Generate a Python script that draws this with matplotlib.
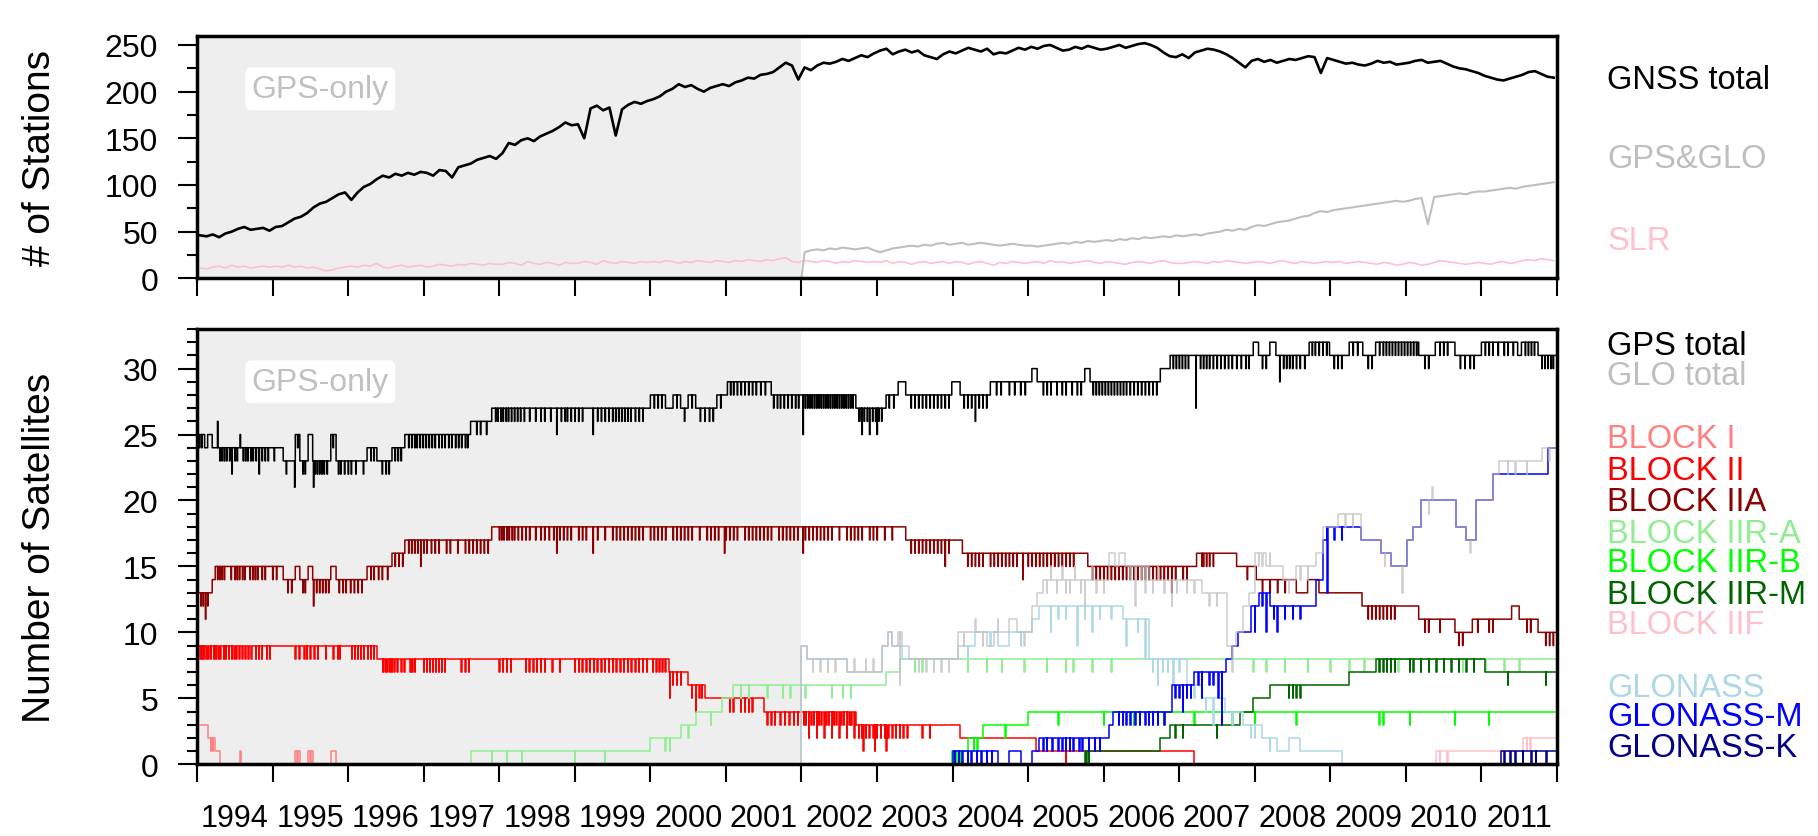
import numpy as np
import matplotlib
matplotlib.use('Agg')
import matplotlib.pyplot as plt
import matplotlib.transforms as mtransforms
from matplotlib.ticker import MultipleLocator, FixedLocator, FixedFormatter, NullFormatter

plt.rcParams['font.family'] = ['Liberation Sans', 'DejaVu Sans']

# ---------------- top panel: monthly station counts ----------------
gnss_total = [
    [46, 45, 47, 44, 48, 50, 53, 55, 52, 53, 54, 51],
    [55, 56, 60, 64, 66, 70, 76, 80, 82, 86, 90, 92],
    [84, 92, 98, 101, 106, 110, 108, 112, 110, 113, 111, 114],
    [113, 110, 116, 115, 108, 119, 121, 123, 127, 129, 131, 128],
    [134, 145, 143, 148, 150, 147, 152, 155, 158, 162, 167, 164],
    [165, 150, 182, 185, 180, 183, 153, 181, 186, 189, 187, 190],
    [192, 195, 200, 203, 208, 205, 207, 203, 200, 204, 206, 208],
    [206, 210, 212, 215, 214, 218, 219, 221, 226, 231, 228, 213],
    [226, 223, 228, 231, 230, 232, 235, 233, 236, 239, 237, 241],
    [244, 246, 240, 243, 245, 242, 244, 239, 237, 235, 240, 243],
    [241, 244, 247, 245, 243, 246, 240, 242, 241, 244, 247, 245],
    [248, 246, 249, 250, 247, 244, 245, 248, 246, 249, 247, 245],
    [246, 248, 250, 247, 249, 251, 252, 250, 247, 242, 238, 237],
    [240, 236, 242, 244, 246, 245, 243, 240, 236, 231, 226, 233],
    [235, 232, 234, 231, 233, 235, 234, 236, 238, 237, 220, 236],
    [234, 232, 230, 231, 229, 228, 230, 233, 231, 232, 229, 230],
    [231, 233, 234, 231, 232, 233, 230, 227, 225, 224, 222, 220],
    [217, 215, 213, 212, 214, 216, 218, 221, 222, 219, 216, 215],
]
gps_glo_stations = [
    [28, 30, 31, 30, 32, 31, 33, 32, 31, 32, 33, 30],
    [28, 30, 32, 33, 34, 35, 34, 36, 35, 37, 38, 36],
    [37, 38, 36, 37, 38, 37, 36, 35, 36, 37, 36, 35],
    [35, 34, 35, 36, 37, 38, 37, 39, 38, 40, 39, 40],
    [41, 40, 42, 41, 43, 42, 44, 43, 44, 45, 44, 46],
    [45, 46, 47, 46, 48, 49, 50, 52, 51, 53, 52, 55],
    [57, 56, 58, 60, 61, 62, 64, 66, 67, 70, 72, 71],
    [73, 74, 75, 76, 77, 78, 79, 80, 81, 82, 83, 82],
    [83, 85, 86, 58, 87, 88, 89, 90, 91, 90, 92, 93],
    [93, 94, 95, 96, 97, 96, 98, 99, 100, 101, 102, 103],
]
slr_stations = [
    [11, 10, 12, 13, 11, 14, 12, 13, 11, 12, 13, 12],
    [13, 12, 14, 12, 13, 11, 12, 10, 8, 9, 11, 12],
    [13, 12, 14, 13, 16, 12, 11, 13, 14, 12, 13, 14],
    [12, 13, 15, 14, 13, 15, 14, 16, 15, 14, 16, 15],
    [15, 17, 16, 14, 18, 16, 15, 17, 16, 14, 17, 16],
    [16, 18, 17, 15, 19, 17, 16, 18, 17, 16, 18, 17],
    [18, 17, 19, 18, 16, 18, 17, 19, 18, 17, 19, 18],
    [17, 19, 18, 20, 19, 18, 20, 19, 21, 22, 18, 17],
    [19, 18, 17, 19, 18, 16, 18, 17, 19, 18, 17, 18],
    [17, 19, 16, 18, 17, 15, 17, 18, 16, 17, 18, 16],
    [18, 17, 15, 17, 18, 16, 14, 17, 16, 18, 17, 16],
    [17, 18, 16, 19, 17, 18, 16, 17, 18, 19, 17, 16],
    [18, 17, 16, 15, 17, 18, 17, 16, 18, 19, 17, 16],
    [16, 17, 18, 17, 16, 18, 17, 19, 18, 17, 16, 17],
    [18, 17, 16, 18, 19, 17, 16, 18, 17, 16, 17, 18],
    [17, 18, 16, 17, 18, 17, 16, 15, 17, 16, 14, 15],
    [17, 16, 14, 15, 17, 19, 18, 17, 16, 15, 16, 17],
    [16, 15, 17, 18, 16, 17, 19, 20, 19, 21, 20, 19],
]

# ---------------- bottom panel: satellite counts (steps + daily dips) ----------------
gps_base = [(1994.0, 25), (1994.1, 24), (1994.14, 25), (1994.2, 24), (1995.14, 23), (1995.3, 25),
            (1995.36, 23), (1995.47, 25), (1995.53, 23), (1995.77, 25), (1995.84, 23), (1996.25, 24),
            (1996.38, 23), (1996.58, 24), (1996.75, 25), (1997.62, 26), (1997.9, 27), (2000.0, 28),
            (2000.2, 27), (2000.3, 28), (2000.4, 27), (2000.5, 28), (2000.6, 27), (2000.88, 28),
            (2001.02, 29), (2001.6, 28), (2002.72, 27), (2003.12, 28), (2003.28, 29), (2003.38, 28),
            (2003.99, 29), (2004.1, 28), (2004.5, 29), (2005.05, 30), (2005.12, 29), (2005.75, 30),
            (2005.82, 29), (2006.75, 30), (2006.88, 31), (2007.98, 32), (2008.05, 31), (2008.2, 32),
            (2008.28, 31), (2008.72, 32), (2008.99, 31), (2009.25, 32), (2009.43, 31), (2009.6, 32),
            (2010.17, 31), (2010.39, 32), (2010.65, 31), (2011.0, 32), (2011.48, 31), (2011.53, 32),
            (2011.75, 31)]
gps_dips = [
    1994.03, 1994.06, 1994.3, 1994.33, 1994.36, 1994.39, 1994.43, 1994.5, 1994.53, 1994.61,
    1994.64, 1994.67, 1994.71, 1994.74, 1994.78, 1994.86, 1994.9, 1994.94, 1995.02, 1995.18,
    1995.33, 1995.4, 1995.43, 1995.56, 1995.59, 1995.62, 1995.65, 1995.68, 1995.72, 1995.8,
    1995.87, 1995.9, 1995.95, 1996.0, 1996.04, 1996.1, 1996.2, 1996.3, 1996.34, 1996.45,
    1996.5, 1996.54, 1996.62, 1996.66, 1996.7, 1996.8, 1996.84, 1996.88, 1996.91, 1996.95,
    1996.99, 1997.03, 1997.07, 1997.11, 1997.15, 1997.2, 1997.24, 1997.28, 1997.33, 1997.37,
    1997.42, 1997.46, 1997.5, 1997.55, 1997.58, 1997.7, 1997.75, 1997.83, 1997.95, 1997.98,
    1998.02, 1998.05, 1998.09, 1998.12, 1998.16, 1998.2, 1998.24, 1998.28, 1998.33, 1998.4,
    1998.48, 1998.55, 1998.6, 1998.68, 1998.82, 1998.87, 1998.9, 1998.95, 1999.0, 1999.05,
    1999.1, 1999.3, 1999.35, 1999.4, 1999.45, 1999.5, 1999.54, 1999.58, 1999.62, 1999.66,
    1999.7, 1999.74, 1999.8, 1999.85, 1999.9, 2000.05, 2000.1, 2000.15, 2000.35, 2000.45,
    2000.55, 2000.66, 2000.72, 2000.78, 2000.83, 2000.93, 2001.06, 2001.1, 2001.15, 2001.2,
    2001.25, 2001.3, 2001.35, 2001.4, 2001.46, 2001.52, 2001.63, 2001.68, 2001.72, 2001.77,
    2001.82, 2001.87, 2001.92, 2001.96, 2002.05, 2002.08, 2002.11, 2002.14, 2002.17, 2002.2,
    2002.23, 2002.26, 2002.29, 2002.32, 2002.35, 2002.38, 2002.41, 2002.44, 2002.47, 2002.5,
    2002.53, 2002.56, 2002.59, 2002.62, 2002.65, 2002.68, 2002.76, 2002.79, 2002.83, 2002.87,
    2002.94, 2002.98, 2003.02, 2003.06, 2003.16, 2003.22, 2003.45, 2003.5, 2003.55, 2003.6,
    2003.65, 2003.7, 2003.75, 2003.8, 2003.85, 2003.9, 2003.95, 2004.15, 2004.2, 2004.25,
    2004.35, 2004.4, 2004.45, 2004.58, 2004.64, 2004.75, 2004.82, 2004.9, 2004.96, 2005.2,
    2005.25, 2005.3, 2005.38, 2005.45, 2005.5, 2005.58, 2005.65, 2005.7, 2005.86, 2005.9,
    2005.94, 2005.98, 2006.02, 2006.06, 2006.1, 2006.14, 2006.18, 2006.22, 2006.26, 2006.3,
    2006.35, 2006.4, 2006.45, 2006.5, 2006.55, 2006.6, 2006.65, 2006.7, 2006.92, 2006.96,
    2007.0, 2007.04, 2007.08, 2007.12, 2007.28, 2007.32, 2007.36, 2007.4, 2007.45, 2007.5,
    2007.55, 2007.6, 2007.65, 2007.7, 2007.76, 2007.82, 2007.88, 2007.92, 2008.1, 2008.15,
    2008.38, 2008.42, 2008.46, 2008.5, 2008.55, 2008.6, 2008.66, 2008.76, 2008.8, 2008.85,
    2008.9, 2008.95, 2009.05, 2009.1, 2009.15, 2009.3, 2009.36, 2009.5, 2009.55, 2009.65,
    2009.7, 2009.74, 2009.78, 2009.82, 2009.86, 2009.9, 2009.94, 2009.98, 2010.02, 2010.06,
    2010.1, 2010.14, 2010.25, 2010.3, 2010.45, 2010.5, 2010.55, 2010.72, 2010.78, 2010.85,
    2010.9, 2011.05, 2011.1, 2011.15, 2011.22, 2011.3, 2011.35, 2011.42, 2011.58, 2011.62,
    2011.66, 2011.7, 2011.8, 2011.84, 2011.88, 2011.92, 2011.95]
gps_jumps = [(1994.27, 2), (1994.57, 1), (1994.46, -2), (1994.82, -2), (1995.29, -2), (1995.54, -2),
             (1998.76, -2), (1999.24, -2), (2002.02, -3), (2002.8, -2), (2002.9, -2), (2003.0, -2),
             (2004.3, -2), (2007.22, -4), (2008.33, -2)]

glo_base = [(2002.0, 0), (2002.0, 9), (2002.08, 8), (2002.6, 7), (2003.07, 9), (2003.15, 10),
            (2003.2, 9), (2003.28, 10), (2003.33, 9), (2003.42, 8), (2004.07, 10), (2004.45, 9),
            (2004.55, 10), (2004.75, 11), (2004.85, 10), (2005.05, 12), (2005.12, 13), (2005.2, 14),
            (2006.07, 16), (2006.15, 15), (2006.2, 16), (2006.28, 15), (2006.6, 14), (2007.3, 13),
            (2007.63, 9), (2007.75, 10), (2007.85, 12), (2007.93, 13), (2008.0, 16), (2008.15, 15),
            (2008.37, 14), (2008.55, 15), (2008.81, 16), (2008.9, 18), (2009.1, 19), (2009.4, 17),
            (2009.67, 16), (2009.8, 15), (2010.01, 17), (2010.1, 18), (2010.2, 20), (2010.67, 18),
            (2010.8, 17), (2010.93, 20), (2011.15, 22), (2011.23, 23), (2011.8, 24)]
glo_dips = [2002.15, 2002.25, 2002.35, 2002.45, 2003.55, 2003.65, 2003.75, 2003.85, 2003.95,
            2004.15, 2004.4, 2004.95, 2005.25, 2005.38, 2005.5, 2005.55, 2005.7, 2005.9, 2006.0,
            2006.35, 2006.5, 2006.65, 2006.8, 2006.97, 2007.1, 2007.2, 2007.4, 2007.5, 2008.05,
            2008.1, 2008.45, 2008.6, 2008.7, 2009.2, 2009.3, 2009.72, 2010.3, 2010.85, 2011.35,
            2011.45, 2011.6, 2011.9]
glo_jumps = [(2002.7, 1), (2002.85, 1), (2002.95, 1), (2003.3, -4), (2004.3, 1), (2004.6, 1),
             (2005.3, 1), (2005.45, 1), (2005.62, 1), (2005.75, -2), (2005.85, 1), (2006.42, -3),
             (2006.55, -2), (2006.72, 1), (2006.9, -2), (2007.7, -2), (2008.2, 1), (2009.95, -2),
             (2010.35, 1)]

glonass_base = [(2002.0, 0), (2002.0, 9), (2002.08, 8), (2002.6, 7), (2003.07, 9), (2003.15, 10),
                (2003.2, 9), (2003.33, 8), (2004.07, 9), (2004.3, 10), (2004.6, 9), (2004.75, 10),
                (2005.05, 11), (2005.15, 12), (2006.25, 11), (2006.6, 8), (2007.1, 6), (2007.3, 5),
                (2007.6, 4), (2007.85, 3), (2008.1, 2), (2008.3, 1), (2008.45, 2), (2008.6, 1),
                (2009.15, 0)]
glonass_dips = [2004.2, 2004.5, 2004.9, 2005.4, 2005.5, 2005.75, 2005.95, 2006.1, 2006.45, 2006.65,
                2006.78, 2006.85, 2007.0, 2007.2, 2007.35, 2007.7, 2007.95, 2008.0, 2008.2]
glonass_jumps = [(2005.3, -2), (2005.65, -3), (2005.85, -2), (2006.3, -2), (2006.55, -3),
                 (2006.72, -2), (2006.92, -2), (2007.45, -2)]

glom_base = [(2004.0, 0), (2004.0, 1), (2004.6, 0), (2004.75, 1), (2004.9, 0), (2005.05, 1),
             (2005.15, 2), (2006.07, 3), (2006.12, 4), (2006.9, 6), (2007.2, 7), (2007.62, 8),
             (2007.7, 9), (2007.78, 10), (2007.95, 12), (2008.05, 13), (2008.2, 12), (2008.81, 14),
             (2008.9, 17), (2008.95, 18), (2009.2, 18), (2009.4, 17), (2009.67, 16), (2009.8, 15),
             (2010.01, 17), (2010.1, 18), (2010.2, 20), (2010.67, 18), (2010.8, 17), (2010.93, 20),
             (2011.15, 22), (2011.88, 24)]
glom_dips = [2004.03, 2004.08, 2004.13, 2004.2, 2004.25, 2004.32, 2004.38, 2004.45, 2004.52,
             2005.2, 2005.25, 2005.32, 2005.4, 2005.45, 2005.5, 2005.55, 2005.6, 2005.68, 2005.72,
             2005.8, 2005.88, 2005.95, 2006.2, 2006.25, 2006.3, 2006.35, 2006.42, 2006.48, 2006.55,
             2006.6, 2006.65, 2006.72, 2006.8, 2006.95, 2007.0, 2007.1, 2007.15, 2007.25, 2007.4,
             2007.45, 2008.1, 2008.25, 2008.4, 2008.5, 2008.6, 2009.05, 2009.15]
glom_jumps = [(2007.05, -2), (2007.3, -2), (2007.52, -2), (2007.56, -4), (2008.0, -2),
              (2008.15, -3), (2008.3, -2), (2008.96, -5)]

glok_base = [(2011.26, 0), (2011.26, 1)]
glok_dips = [2011.3, 2011.38, 2011.45, 2011.55, 2011.66, 2011.72, 2011.86]

block1_base = [(1994.0, 3), (1994.15, 2), (1994.24, 1), (1994.3, 0), (1995.3, 1), (1995.32, 0),
               (1995.34, 1), (1995.36, 0), (1995.47, 1), (1995.49, 0), (1995.51, 1), (1995.53, 0),
               (1995.77, 1), (1995.84, 0)]
block1_dips = [1994.18, 1994.21]
block1_jumps = [(1994.57, 1)]

block2_base = [(1994.0, 9), (1996.38, 8), (2000.25, 7), (2000.5, 6), (2000.72, 5), (2001.5, 4),
               (2002.72, 3), (2004.1, 2), (2005.1, 1), (2007.2, 0)]
block2_dips = [
    1994.04, 1994.06, 1994.09, 1994.12, 1994.15, 1994.18, 1994.22, 1994.25, 1994.28, 1994.31,
    1994.35, 1994.38, 1994.42, 1994.46, 1994.49, 1994.52, 1994.56, 1994.6, 1994.64, 1994.68,
    1994.72, 1994.78, 1994.82, 1994.86, 1994.92, 1994.96, 1995.3, 1995.35, 1995.42, 1995.45,
    1995.5, 1995.55, 1995.6, 1995.7, 1995.8, 1995.86, 1995.89, 1996.05, 1996.09, 1996.13,
    1996.17, 1996.21, 1996.26, 1996.3, 1996.34, 1996.46, 1996.49, 1996.52, 1996.55, 1996.58,
    1996.61, 1996.65, 1996.7, 1996.74, 1996.82, 1996.85, 1996.88, 1997.0, 1997.04, 1997.08,
    1997.12, 1997.16, 1997.2, 1997.24, 1997.28, 1997.5, 1997.55, 1997.6, 1998.0, 1998.05,
    1998.1, 1998.15, 1998.35, 1998.4, 1998.45, 1998.5, 1998.55, 1998.6, 1998.7, 1998.8,
    1999.0, 1999.05, 1999.1, 1999.15, 1999.2, 1999.25, 1999.3, 1999.35, 1999.4, 1999.45,
    1999.5, 1999.55, 1999.6, 1999.65, 1999.7, 1999.75, 1999.8, 1999.85, 1999.9, 1999.95,
    2000.03, 2000.08, 2000.12, 2000.16, 2000.2, 2000.3, 2000.35, 2000.4, 2000.55, 2000.65,
    2000.68, 2001.05, 2001.1, 2001.2, 2001.25, 2001.3, 2001.35, 2001.55, 2001.6, 2001.65,
    2001.72, 2001.78, 2001.84, 2001.9, 2001.95, 2002.03, 2002.06, 2002.13, 2002.16, 2002.23,
    2002.26, 2002.33, 2002.36, 2002.43, 2002.46, 2002.53, 2002.56, 2002.63, 2002.66, 2002.76,
    2002.8, 2002.85, 2002.9, 2002.95, 2003.0, 2003.05, 2003.1, 2003.15, 2003.2, 2003.25,
    2003.3, 2003.35, 2003.4, 2003.6, 2003.7, 2005.5, 2005.8]
block2_jumps = [(2000.26, -2), (2000.6, -2), (2002.1, -2), (2002.2, -2), (2002.3, -2), (2002.4, -2),
                (2002.5, -2), (2002.6, -2), (2002.7, -2), (2002.82, -2), (2002.97, -2),
                (2003.12, -2)]

block2a_base = [(1994.0, 13), (1994.2, 14), (1994.24, 15), (1995.14, 14), (1995.3, 15), (1995.36, 14),
                (1995.47, 15), (1995.53, 14), (1995.77, 15), (1995.84, 14), (1996.25, 15),
                (1996.58, 16), (1996.75, 17), (1997.9, 18), (2003.38, 17), (2004.13, 16),
                (2005.79, 15), (2007.23, 16), (2007.76, 15), (2008.02, 14), (2008.55, 13),
                (2008.7, 14), (2008.85, 13), (2009.42, 12), (2010.17, 11), (2010.65, 10),
                (2010.88, 11), (2011.4, 12), (2011.5, 11), (2011.75, 10)]
block2a_dips = [
    1994.05, 1994.08, 1994.14, 1994.27, 1994.3, 1994.33, 1994.36, 1994.45, 1994.5, 1994.53,
    1994.56, 1994.6, 1994.63, 1994.7, 1994.74, 1994.77, 1994.8, 1994.86, 1994.9, 1995.0,
    1995.05, 1995.2, 1995.25, 1995.4, 1995.43, 1995.58, 1995.62, 1995.66, 1995.7, 1995.74,
    1995.88, 1995.93, 1995.97, 1996.03, 1996.08, 1996.13, 1996.18, 1996.3, 1996.34, 1996.4,
    1996.45, 1996.52, 1996.62, 1996.67, 1996.72, 1996.8, 1996.84, 1996.88, 1996.92, 1997.0,
    1997.04, 1997.1, 1997.15, 1997.2, 1997.3, 1997.35, 1997.45, 1997.55, 1997.6, 1997.65,
    1997.7, 1997.75, 1997.8, 1997.85, 1998.0, 1998.03, 1998.06, 1998.1, 1998.13, 1998.17,
    1998.2, 1998.25, 1998.3, 1998.35, 1998.4, 1998.48, 1998.55, 1998.6, 1998.66, 1998.72,
    1998.8, 1998.85, 1998.9, 1998.95, 1999.05, 1999.1, 1999.15, 1999.3, 1999.4, 1999.5,
    1999.55, 1999.6, 1999.65, 1999.7, 1999.75, 1999.8, 1999.85, 1999.9, 2000.0, 2000.05,
    2000.1, 2000.15, 2000.2, 2000.3, 2000.35, 2000.4, 2000.45, 2000.5, 2000.55, 2000.65,
    2000.75, 2000.8, 2000.85, 2000.9, 2001.0, 2001.05, 2001.1, 2001.15, 2001.25, 2001.3,
    2001.35, 2001.4, 2001.45, 2001.5, 2001.55, 2001.6, 2001.7, 2001.75, 2001.8, 2001.85,
    2001.9, 2001.95, 2002.05, 2002.1, 2002.15, 2002.2, 2002.25, 2002.3, 2002.35, 2002.4,
    2002.5, 2002.6, 2002.65, 2002.7, 2002.75, 2002.8, 2002.9, 2002.95, 2003.0, 2003.1,
    2003.2, 2003.45, 2003.5, 2003.55, 2003.6, 2003.65, 2003.7, 2003.75, 2003.8, 2003.85,
    2003.95, 2004.2, 2004.25, 2004.3, 2004.35, 2004.4, 2004.5, 2004.55, 2004.6, 2004.65,
    2004.7, 2004.75, 2004.8, 2004.85, 2005.0, 2005.05, 2005.1, 2005.15, 2005.2, 2005.25,
    2005.3, 2005.35, 2005.4, 2005.45, 2005.5, 2005.55, 2005.6, 2005.85, 2005.9, 2005.95,
    2006.0, 2006.05, 2006.1, 2006.15, 2006.2, 2006.25, 2006.3, 2006.35, 2006.4, 2006.45,
    2006.5, 2006.55, 2006.6, 2006.65, 2006.7, 2006.75, 2006.8, 2006.85, 2006.95, 2007.05,
    2007.1, 2007.3, 2007.32, 2007.36, 2007.4, 2007.45, 2007.9, 2008.1, 2008.2, 2008.3, 2008.4,
    2009.5, 2009.55, 2009.6, 2009.65, 2009.7, 2009.75, 2009.8, 2009.85, 2010.25, 2010.3,
    2010.45, 2010.7, 2010.75, 2010.95, 2011.1, 2011.15, 2011.6, 2011.65, 2011.85, 2011.9,
    2011.95]
block2a_jumps = [(1994.11, -2), (1995.54, -2), (1996.96, -2), (1998.76, -2), (1999.24, -2),
                 (2000.98, -2), (2002.02, -2), (2003.9, -2), (2004.93, -2), (2006.9, -2)]

block2ra_base = [(1997.62, 0), (1997.62, 1), (2000.0, 2), (2000.4, 3), (2000.6, 4), (2000.95, 5),
                 (2001.1, 6), (2003.12, 7), (2003.3, 8)]
block2ra_dips = [1997.9, 1998.1, 1998.3, 1999.0, 1999.4, 2000.2, 2000.26, 2000.5, 2000.8, 2001.2,
                 2001.3, 2001.55, 2001.75, 2001.85, 2002.05, 2002.4, 2002.55, 2002.65, 2003.5,
                 2003.6, 2004.2, 2004.45, 2004.65, 2004.95, 2005.25, 2005.5, 2005.6, 2005.85,
                 2006.1, 2007.98, 2008.15, 2008.4, 2008.7, 2009.0, 2009.25, 2009.45, 2009.65,
                 2009.9, 2010.2, 2010.5, 2010.75, 2011.05, 2011.3, 2011.5]

block2rb_base = [(2003.99, 0), (2003.99, 1), (2004.2, 2), (2004.4, 3), (2005.0, 4)]
block2rb_dips = [2004.02, 2004.05, 2004.1, 2004.28, 2004.33, 2004.7, 2005.4, 2006.0, 2006.4,
                 2006.8, 2007.2, 2007.7, 2008.0, 2008.55, 2009.65, 2009.7, 2010.05, 2010.65, 2011.1]

block2rm_base = [(2005.75, 0), (2005.75, 1), (2006.75, 2), (2006.88, 3), (2007.8, 4), (2007.98, 5),
                 (2008.2, 6), (2009.25, 7), (2009.6, 8), (2011.05, 7)]
block2rm_dips = [2005.77, 2005.8, 2006.95, 2007.05, 2007.5, 2008.45, 2008.5, 2008.55, 2008.6,
                 2009.65, 2009.7, 2009.75, 2009.8, 2009.85, 2010.05, 2010.1, 2010.2, 2010.3,
                 2010.4, 2010.5, 2010.6, 2010.7, 2010.8, 2010.9, 2011.35, 2011.85]

block2f_base = [(2010.4, 0), (2010.4, 1), (2011.55, 2)]
block2f_dips = [2010.45, 2010.55, 2011.6, 2011.65]

years = list(range(1994, 2012))


def build_steps(base, dips=(), jumps=(), end=2012.0, w=0.006):
    bt = np.array([b[0] for b in base])
    bv = np.array([b[1] for b in base])
    events = list(base)
    for t, d in [(t, -1) for t in dips] + list(jumps):
        i = np.searchsorted(bt, t, side='right') - 1
        if i < 0:
            continue
        events.append((t, bv[i] + d))
        events.append((t + w, bv[i]))
    events.sort(key=lambda e: e[0])
    t = [e[0] for e in events] + [end]
    v = [e[1] for e in events] + [events[-1][1]]
    return t, v


def monthly(rows, start):
    vals = np.array(rows, dtype=float).ravel()
    t = start + (np.arange(len(vals)) + 0.5) / 12.0
    return t, vals


fig = plt.figure(figsize=(18.18, 8.37), dpi=100)
ax1 = fig.add_axes([0.1084, 0.6663, 0.748, 0.2899])
ax2 = fig.add_axes([0.1084, 0.0857, 0.748, 0.52])

for ax in (ax1, ax2):
    ax.axvspan(1994, 2002, color='#eeeeee', lw=0, zorder=0)
    ax.set_xlim(1994, 2012)
    ax.xaxis.set_major_locator(FixedLocator(range(1994, 2013)))
    ax.xaxis.set_minor_locator(FixedLocator([y + 0.5 for y in years]))
    ax.tick_params(axis='x', which='major', length=13, width=1.5, labelbottom=False)
    ax.tick_params(axis='x', which='minor', length=0, pad=28, labelsize=22)
    ax.tick_params(axis='y', which='major', length=14, width=1.5, pad=14, labelsize=23)
    ax.tick_params(axis='y', which='minor', length=7, width=1.5)
    for s in ax.spines.values():
        s.set_linewidth(2.5)

# top panel
t, v = monthly(slr_stations, 1994)
ax1.plot(t, v, color='pink', lw=1.2)
t, v = monthly(gps_glo_stations, 2002)
ax1.plot(np.r_[2002.0, t], np.r_[0, v], color='#bebebe', lw=1.5)
t, v = monthly(gnss_total, 1994)
ax1.plot(t, v, color='black', lw=1.9)
ax1.set_ylim(0, 260)
ax1.yaxis.set_major_locator(MultipleLocator(50))
ax1.yaxis.set_minor_locator(MultipleLocator(25))
ax1.xaxis.set_minor_formatter(NullFormatter())
ax1.set_ylabel('# of Stations', fontsize=28)
ax1.yaxis.set_label_coords(-0.102, 0.5)
ax1.text(1995.63, 203, 'GPS-only', color='#c0c0c0', fontsize=23, ha='center', va='center',
         bbox=dict(boxstyle='round,pad=0.2', fc='white', ec='none'))

# bottom panel
series = [
    (block1_base, block1_dips, block1_jumps, '#ff8080', 1996.0),
    (block2_base, block2_dips, block2_jumps, 'red', 2012.0),
    (block2a_base, block2a_dips, block2a_jumps, '#8b0000', 2012.0),
    (block2ra_base, block2ra_dips, (), '#90ee90', 2012.0),
    (block2rb_base, block2rb_dips, (), '#00ff00', 2012.0),
    (block2rm_base, block2rm_dips, (), '#006400', 2012.0),
    (block2f_base, block2f_dips, (), 'pink', 2012.0),
    (glonass_base, glonass_dips, glonass_jumps, '#add8e6', 2012.0),
    (glom_base, glom_dips, glom_jumps, 'blue', 2012.0),
    (glok_base, glok_dips, (), '#00008b', 2012.0),
    (gps_base, gps_dips, gps_jumps, 'black', 2012.0),
]
for base, dips, jumps, col, end in series:
    t, v = build_steps(base, dips, jumps, end=end)
    ax2.step(t, v, where='post', color=col, lw=1.1)
t, v = build_steps(glo_base, glo_dips, glo_jumps)
ax2.step(t, v, where='post', color='#bebebe', lw=1.1, alpha=0.75)

ax2.set_ylim(0, 33)
ax2.yaxis.set_major_locator(MultipleLocator(5))
ax2.yaxis.set_minor_locator(MultipleLocator(1))
ax2.xaxis.set_minor_formatter(FixedFormatter([str(y) for y in years]))
ax2.set_ylabel('Number of Satellites', fontsize=28)
ax2.yaxis.set_label_coords(-0.102, 0.5)
ax2.text(1995.63, 29.0, 'GPS-only', color='#c0c0c0', fontsize=23, ha='center', va='center',
         bbox=dict(boxstyle='round,pad=0.2', fc='white', ec='none'))

# right-hand labels
top_labels = [('GNSS total', 'black', 213), ('GPS&GLO', '#bebebe', 128), ('SLR', 'pink', 40)]
bottom_labels = [('GPS total', 'black', 31.75), ('GLO total', '#bebebe', 29.5),
                 ('BLOCK I', '#ff8080', 24.7), ('BLOCK II', 'red', 22.3),
                 ('BLOCK IIA', '#8b0000', 19.9), ('BLOCK IIR-A', '#90ee90', 17.5),
                 ('BLOCK IIR-B', '#00ff00', 15.3), ('BLOCK IIR-M', '#006400', 12.9),
                 ('BLOCK IIF', 'pink', 10.6), ('GLONASS', '#add8e6', 5.8),
                 ('GLONASS-M', 'blue', 3.6), ('GLONASS-K', '#00008b', 1.3)]
for ax, labels in ((ax1, top_labels), (ax2, bottom_labels)):
    trans = mtransforms.blended_transform_factory(ax.transAxes, ax.transData)
    for name, col, y in labels:
        ax.text(1.037, y, name, color=col, fontsize=23.5, va='center', ha='left',
                transform=trans, clip_on=False)

fig.savefig('out.png', dpi=100)
